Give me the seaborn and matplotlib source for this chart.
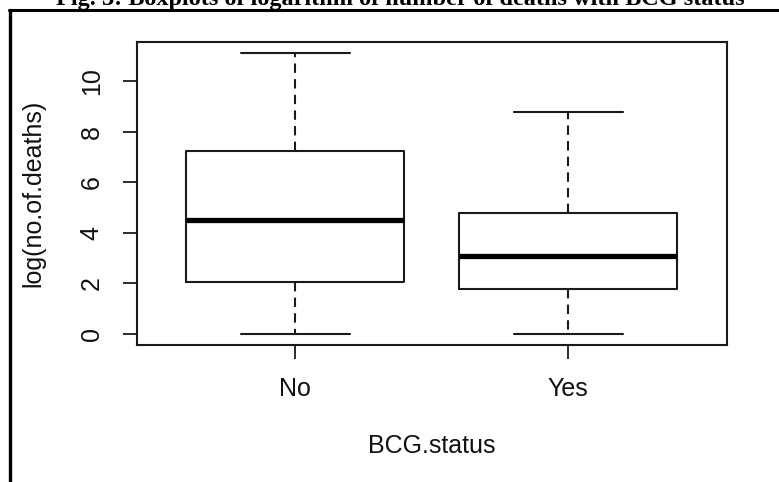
import matplotlib
matplotlib.use("Agg")
import matplotlib.pyplot as plt
from matplotlib.lines import Line2D
import numpy as np
import pandas as pd
import seaborn as sns

# Five-number summaries of log(no. of deaths) for each BCG status group
bcg_status = ["No", "Yes"]
log_deaths_no = [0.0, 2.05, 4.50, 7.25, 11.12]
log_deaths_yes = [0.0, 1.78, 3.07, 4.80, 8.79]
y_ticks = [0, 2, 4, 6, 8, 10]

df = pd.DataFrame({
    "BCG.status": ["No"] * len(log_deaths_no) + ["Yes"] * len(log_deaths_yes),
    "log(no.of.deaths)": log_deaths_no + log_deaths_yes,
})

sns.set_theme(style="ticks")
plt.rcParams["font.family"] = ["Liberation Sans", "DejaVu Sans"]

W, H = 779, 482
fig = plt.figure(figsize=(W / 100, H / 100), dpi=100)
ax = fig.add_axes([137 / W, 1 - 345 / H, (726.5 - 137) / W, (345 - 42) / H])

ink = "#1a1a1a"
sns.boxplot(
    data=df, x="BCG.status", y="log(no.of.deaths)", order=bcg_status,
    ax=ax, width=0.8, whis=(0, 100), fill=False, color=ink, linecolor=ink,
    linewidth=1.5,
    boxprops=dict(linewidth=1.5, color=ink),
    medianprops=dict(linewidth=3.8, color="black", solid_capstyle="butt"),
    whiskerprops=dict(linewidth=1.5, linestyle=(0, (4.5, 3)), color=ink),
    capprops=dict(linewidth=1.5, color=ink),
)

ax.set_xlim(-0.58, 1.58)
ax.set_ylim(-0.445, 11.565)
ax.set_yticks(y_ticks)
ax.set_yticklabels([str(t) for t in y_ticks], rotation=90, va="center")

for side in ["top", "right", "bottom", "left"]:
    ax.spines[side].set_visible(True)
    ax.spines[side].set_linewidth(1.5)
    ax.spines[side].set_color(ink)

fs = 18
ax.tick_params(axis="both", length=10, width=1.3, color=ink,
               labelsize=fs, labelcolor="#111111")
ax.tick_params(axis="x", pad=13)
ax.tick_params(axis="y", pad=14)
ax.set_xlabel("BCG.status", fontsize=fs, color="#111111", labelpad=24)
ax.set_ylabel("log(no.of.deaths)", fontsize=fs, color="#111111", labelpad=25)

# Page frame lines around the figure
fig.add_artist(Line2D([9 / W, 1.0], [1 - 10 / H, 1 - 10 / H],
                      transform=fig.transFigure, color="black", linewidth=2.2))
fig.add_artist(Line2D([9.5 / W, 9.5 / W], [0.0, 1 - 10 / H],
                      transform=fig.transFigure, color="black", linewidth=2.4))

# Caption above the frame (runs off the top edge)
fig.text(400 / W, 1 - 5 / H,
         "Fig. 3: Boxplots of logarithm of number of deaths with BCG status",
         ha="center", va="baseline", fontsize=17.5, fontweight="bold",
         family=["Liberation Serif", "DejaVu Serif"], color="black")

fig.savefig("out.png", dpi=100)
